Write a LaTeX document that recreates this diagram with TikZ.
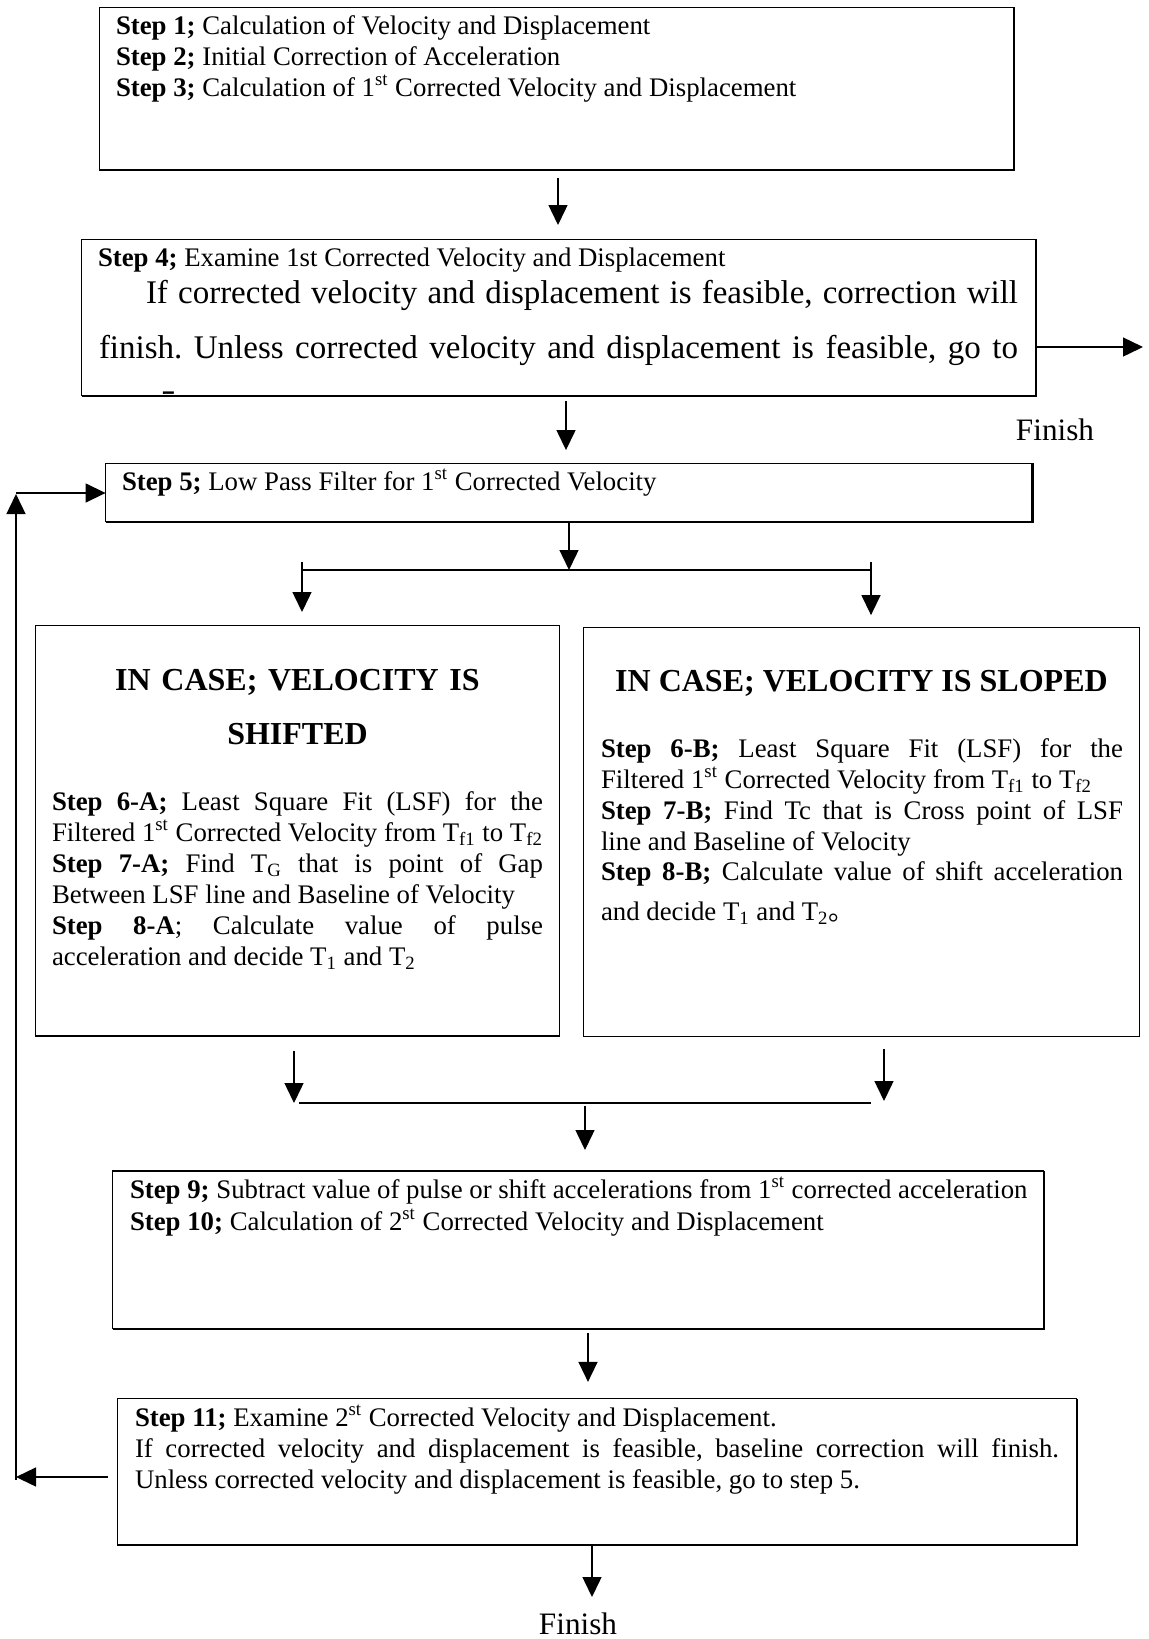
\documentclass[tikz,border=0pt]{standalone}
\usepackage{fontspec}
\setmainfont{Liberation Serif}
\newfontfamily\cjk{Noto Sans CJK SC}
\usetikzlibrary{arrows.meta}
\newcommand\myst{\rule{0pt}{12pt}}
\newcommand\mystb{\rule{0pt}{13pt}}
\begin{document}
\frenchspacing
\begin{tikzpicture}[x=0.5pt,y=-0.5pt,
  box/.style={draw, line width=0.55pt, inner sep=0pt, outer sep=0pt},
  edge/.style={line width=0.75pt},
  txt/.style={inner sep=0pt, outer sep=0pt, font=\fontsize{13.4pt}{15.5pt}\selectfont},
  bigtxt/.style={inner sep=0pt, outer sep=0pt, font=\fontsize{16.5pt}{27.5pt}\selectfont},
  head/.style={inner sep=0pt, outer sep=0pt, font=\fontsize{16pt}{27pt}\selectfont\bfseries},
  fin/.style={inner sep=0pt, outer sep=0pt, font=\fontsize{15.6pt}{18pt}\selectfont},
  conn/.style={line width=0.7pt, -{Triangle[length=10pt,width=9.5pt]}},
  joinline/.style={line width=1pt}]
\useasboundingbox (0,0) rectangle (1149,1639);
\newcommand\shedge[1]{\draw[edge] ([yshift=-0.4pt]#1.south west) -- ([shift={(0.4pt,-0.4pt)}]#1.south east) -- ([xshift=0.4pt]#1.north east);}

% boxes
\node[box, minimum width=456.9pt, minimum height=81pt] (b1) at (556.2,88.4) {};
\node[box, minimum width=476.8pt, minimum height=77.9pt] (b2) at (558.3,317.3) {};
\node[box, minimum width=463.2pt, minimum height=29.25pt] (b5) at (568.8,492.5) {};
\node[box, minimum width=261.9pt, minimum height=205.4pt] (bA) at (297.4,830.6) {};
\node[box, minimum width=278.1pt, minimum height=204.4pt] (bB) at (861.5,831.7) {};
\node[box, minimum width=465.3pt, minimum height=78.9pt] (b9) at (578.2,1249.9) {};
\node[box, minimum width=479.9pt, minimum height=72.7pt] (b11) at (597,1471.6) {};
\shedge{b1}\shedge{b2}\shedge{b5}\shedge{b9}\shedge{b11}

% texts
\node[txt, anchor=north west, align=left] (t1) at (116,10)
 {\myst\textbf{Step 1;} Calculation of Velocity and Displacement\\
  \textbf{Step 2;} Initial Correction of Acceleration\\
  \textbf{Step 3;} Calculation of 1\textsuperscript{st} Corrected Velocity and Displacement};

\node[txt, anchor=north west] (t4a) at (98,242)
 {\myst\textbf{Step 4;} Examine 1st Corrected Velocity and Displacement};
\begin{scope}
\clip (b2.north west) rectangle ([yshift=1pt]b2.south east);
\node[bigtxt, anchor=north west, text width=459.5pt, align=justify] (t4b) at (99,277)
 {\hspace*{23.5pt}\mystb If corrected velocity and displacement is feasible, correction will\linebreak
  finish. Unless corrected velocity and displacement is feasible, go to\linebreak step 5.};
\end{scope}

\node[txt, anchor=north west] (t5) at (122,466)
 {\myst\textbf{Step 5;} Low Pass Filter for 1\textsuperscript{st} Corrected Velocity};

\node[head, anchor=north, text width=250pt, align=center] (hA) at (297.5,664)
 {\mystb IN CASE; VELOCITY IS\\SHIFTED};
\node[head, anchor=north] (hB) at (861.5,665) {\mystb IN CASE; VELOCITY IS SLOPED};

\node[txt, anchor=north west, text width=245.5pt, align=justify] (tA) at (52,786)
 {\myst\textbf{Step 6-A;} Least Square Fit (LSF) for the\linebreak
  Filtered 1\textsuperscript{st} Corrected Velocity from T\textsubscript{f1} to T\textsubscript{f2}\par
  \textbf{Step 7-A;} Find T\textsubscript{G} that is point of Gap\linebreak
  Between LSF line and Baseline of Velocity\par
  \textbf{Step 8-A}; Calculate value of pulse\linebreak
  acceleration and decide T\textsubscript{1} and T\textsubscript{2}};

\node[txt, anchor=north west, text width=261pt, align=justify] (tB1) at (601,733)
 {\myst\textbf{Step 6-B;} Least Square Fit (LSF) for the\linebreak
  Filtered 1\textsuperscript{st} Corrected Velocity from T\textsubscript{f1} to T\textsubscript{f2}\par
  \textbf{Step 7-B;} Find Tc that is Cross point of LSF\linebreak
  line and Baseline of Velocity};
\node[txt, anchor=north west, text width=261pt, align=justify,
      font=\fontsize{13.4pt}{20pt}\selectfont] (tB2) at (601,856)
 {\myst\textbf{Step 8-B;} Calculate value of shift acceleration\linebreak
  and decide T\textsubscript{1} and T\textsubscript{2}{\cjk 。}};

\node[txt, anchor=north west, align=left,
      font=\fontsize{13.4pt}{16pt}\selectfont] (t9) at (130,1174)
 {\myst\textbf{Step 9;} Subtract value of pulse or shift accelerations from 1\textsuperscript{st} corrected acceleration\\
  \textbf{Step 10;} Calculation of 2\textsuperscript{st} Corrected Velocity and Displacement};

\node[txt, anchor=north west, text width=462pt, align=justify] (t11) at (135,1402)
 {\myst\textbf{Step 11;} Examine 2\textsuperscript{st} Corrected Velocity and Displacement.\newline
  If corrected velocity and displacement is feasible, baseline correction will finish.\linebreak
  Unless corrected velocity and displacement is feasible, go to step 5.};

\node[fin] (f1) at (1055,430) {Finish};
\node[fin] (f2) at (578,1624) {Finish};

% connectors
\coordinate (x1) at (558,0);
\draw[conn, shorten <=4.3pt, shorten >=7.2pt] (b1.south -| x1) -- (b2.north -| x1);
\coordinate (e1) at (1143,347);
\draw[conn] (b2.east |- e1) -- (e1);
\coordinate (x3) at (566,0);
\draw[conn, shorten <=2.9pt, shorten >=6.6pt] (b2.south -| x3) -- (b5.north -| x3);
\coordinate (sC) at (569,570);
\draw[conn] (b5.south -| sC) -- (sC);
\coordinate (sL) at (302,570);
\coordinate (sR) at (871,570);
\draw[joinline] (sL) -- (sR);
\draw[conn, shorten >=6.6pt] ([yshift=4pt]sL) -- (bA.north -| sL);
\draw[conn, shorten >=6.1pt] ([yshift=4pt]sR) -- (bB.north -| sR);

\coordinate (jL) at (294,1103);
\coordinate (jR) at (884,1101);
\draw[conn, shorten <=7.5pt] (bA.south -| jL) -- (jL);
\draw[conn, shorten <=6.5pt] (bB.south -| jR) -- (jR);
\coordinate (m1) at (299,1103);
\coordinate (m2) at (871,1103);
\draw[joinline] (m1) -- (m2);
\coordinate (x7) at (585,1103);
\draw[conn, shorten <=1.5pt, shorten >=10.5pt] (x7) -- (b9.north -| x7);
\coordinate (x8) at (588,0);
\draw[conn, shorten <=2pt, shorten >=8.5pt] (b9.south -| x8) -- (b11.north -| x8);
\coordinate (x9) at (592,1597);
\draw[conn] (b11.south -| x9) -- (x9);

\coordinate (fbA) at (16,1477);
\coordinate (fbB) at (16,1480);
\coordinate (fbT) at (16,494);
\coordinate (fbH) at (16,493);
\draw[conn, shorten <=4.5pt] (b11.west |- fbA) -- (fbA);
\draw[conn] (fbB) -- (fbT);
\draw[conn] (fbH) -- (b5.west |- fbH);
\end{tikzpicture}
\end{document}
